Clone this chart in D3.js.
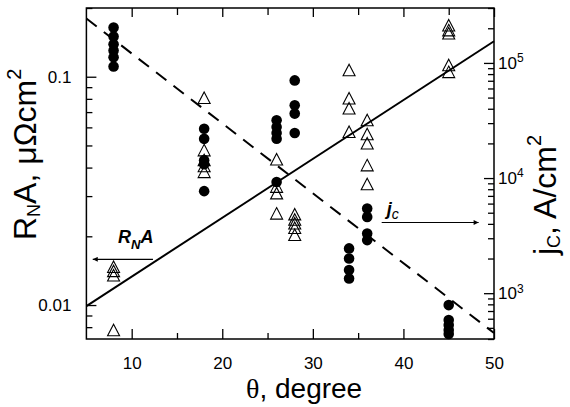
<!DOCTYPE html>
<html>
<head>
<meta charset="utf-8">
<script src="https://cdn.jsdelivr.net/npm/d3@7"></script>
<style>
  body { margin: 0; background: #fff; }
  svg text { font-family: "Liberation Sans", Arial, sans-serif; }
  .axis path { display: none; }
  .axis line { stroke: #000; stroke-width: 1.3; }
  .axis text { font-size: 17px; fill: #000; font-family: "Liberation Sans", Arial, sans-serif; }
</style>
</head>
<body>
<svg id="chart" width="570" height="407"></svg>
<script>
// angles measured (degree)
var angles = [8, 18, 26, 28, 34, 36, 45];

// R_N A, micro-ohm cm^2 (open triangles, left axis)
var rnaValues = [
  [0.0147, 0.0141, 0.0135, 0.00777],
  [0.0809, 0.0477, 0.0432, 0.0406, 0.0383],
  [0.0435, 0.0330, 0.0309, 0.0252],
  [0.0250, 0.0237, 0.0228, 0.0218, 0.0203],
  [0.107, 0.0804, 0.0727, 0.0574],
  [0.0646, 0.0561, 0.0511, 0.0410, 0.0339],
  [0.168, 0.160, 0.155, 0.1125, 0.105]
];

// j_c, A/cm^2 (filled circles, right axis)
var jcValues = [
  [2.03e5, 1.70e5, 1.45e5, 1.28e5, 1.12e5, 9.3e4],
  [2.68e4, 2.19e4, 1.43e4, 1.32e4, 7.7e3],
  [3.17e4, 2.77e4, 2.46e4, 2.20e4, 9.25e3],
  [7.05e4, 4.28e4, 3.63e4, 2.46e4],
  [2.45e3, 2.00e3, 1.59e3, 1.34e3],
  [5.44e3, 4.60e3, 3.30e3, 2.89e3],
  [788, 584, 529, 478, 442]
];

// fit lines (theta, value)
var rnaFit = [[5, 0.0099], [50, 0.143]];
var jcFit = [[5, 2.43e5], [50, 451]];

// ticks
var xMajor = [10, 20, 30, 40, 50];
var xMinor = [15, 25, 35, 45];
var leftMajor = [0.01, 0.1];
var leftMinor = [0.008, 0.009, 0.02, 0.03, 0.04, 0.05, 0.06, 0.07, 0.08, 0.09, 0.2];
var rightMajor = [1e3, 1e4, 1e5];
var rightMinor = [400, 500, 600, 700, 800, 900, 2e3, 3e3, 4e3, 5e3, 6e3, 7e3, 8e3, 9e3,
  2e4, 3e4, 4e4, 5e4, 6e4, 7e4, 8e4, 9e4, 2e5, 3e5];

// annotation arrows: [theta from, theta to, value]
var rnaArrow = [12.35, 5.7, 0.01585];
var jcArrow = [37.6, 48.3, 4110];
var rnaLabelPos = [8.5, 0.0187];
var jcLabelPos = [38.15, 4750];

var svg = d3.select("#chart");
var padL = 86.4, padR = 494, padT = 8, padB = 339;

var x = d3.scaleLinear().domain([5, 50]).range([padL, padR]);
var yL = d3.scaleLog().domain([0.0071, 0.2]).range([padB, padT]);
var yR = d3.scaleLog().domain([400, 3e5]).range([padB, padT]);

var defs = svg.append("defs");
defs.append("marker")
  .attr("id", "arrow")
  .attr("viewBox", "0 0 10 10")
  .attr("refX", 10).attr("refY", 5)
  .attr("markerWidth", 7).attr("markerHeight", 5)
  .attr("markerUnits", "userSpaceOnUse")
  .attr("orient", "auto")
  .append("path").attr("d", "M0,0L10,5L0,10Z").attr("fill", "#000");

function axisG(tr) {
  return svg.append("g").attr("class", "axis").attr("transform", tr);
}

// axes
axisG("translate(0," + padB + ")")
  .call(d3.axisBottom(x).tickValues(xMajor).tickSize(-10).tickPadding(18).tickFormat(d3.format("d")));
axisG("translate(0," + padB + ")")
  .call(d3.axisBottom(x).tickValues(xMinor).tickSize(-6).tickFormat(""));
axisG("translate(0," + padT + ")")
  .call(d3.axisTop(x).tickValues(xMajor).tickSize(-9).tickFormat(""));
axisG("translate(0," + padT + ")")
  .call(d3.axisTop(x).tickValues(xMinor).tickSize(-7).tickFormat(""));

axisG("translate(" + padL + ",0)")
  .call(d3.axisLeft(yL).tickValues(leftMajor).tickSize(-10).tickPadding(15)
    .tickFormat(function(d) { return d === 0.1 ? "0.1" : "0.01"; }));
axisG("translate(" + padL + ",0)")
  .call(d3.axisLeft(yL).tickValues(leftMinor).tickSize(-6).tickFormat(""));

var rAxis = axisG("translate(" + padR + ",0)")
  .call(d3.axisRight(yR).tickValues(rightMajor).tickSize(-10).tickPadding(4).tickFormat(function() { return ""; }));
rAxis.selectAll(".tick text").each(function(d) {
  var t = d3.select(this);
  t.text(null);
  t.append("tspan").text("10");
  t.append("tspan").attr("dy", "-0.55em").style("font-size", "12px").text(Math.round(Math.log10(d)));
});
axisG("translate(" + padR + ",0)")
  .call(d3.axisRight(yR).tickValues(rightMinor).tickSize(-6).tickFormat(""));

// frame
svg.append("rect")
  .attr("x", padL).attr("y", padT)
  .attr("width", padR - padL).attr("height", padB - padT)
  .attr("fill", "none").attr("stroke", "#000").attr("stroke-width", 1.5);

var plot = svg.append("g");

// fit lines
plot.append("path")
  .datum(rnaFit)
  .attr("d", d3.line().x(function(d) { return x(d[0]); }).y(function(d) { return yL(d[1]); }))
  .attr("fill", "none").attr("stroke", "#000").attr("stroke-width", 2);
plot.append("path")
  .datum(jcFit)
  .attr("d", d3.line().x(function(d) { return x(d[0]); }).y(function(d) { return yR(d[1]); }))
  .attr("fill", "none").attr("stroke", "#000").attr("stroke-width", 2)
  .attr("stroke-dasharray", "13,9");

// points
var rnaPts = [], jcPts = [];
angles.forEach(function(a, i) {
  rnaValues[i].forEach(function(v) { rnaPts.push({t: a, v: v}); });
  jcValues[i].forEach(function(v) { jcPts.push({t: a, v: v}); });
});

plot.selectAll("circle.jc")
  .data(jcPts)
  .enter().append("circle")
  .attr("class", "jc")
  .attr("cx", function(d) { return x(d.t); })
  .attr("cy", function(d) { return yR(d.v); })
  .attr("r", 5.3)
  .attr("fill", "#000");

var tri = "M0,-6.5L6,5L-6,5Z";
plot.selectAll("path.rna")
  .data(rnaPts)
  .enter().append("path")
  .attr("class", "rna")
  .attr("d", tri)
  .attr("transform", function(d) { return "translate(" + x(d.t) + "," + (yL(d.v) + 0.7) + ")"; })
  .attr("fill", "none")
  .attr("stroke", "#000")
  .attr("stroke-width", 1.1);

// annotation arrows and labels
plot.append("line")
  .attr("x1", x(rnaArrow[0])).attr("x2", x(rnaArrow[1]))
  .attr("y1", yL(rnaArrow[2])).attr("y2", yL(rnaArrow[2]))
  .attr("stroke", "#000").attr("stroke-width", 1.2)
  .attr("marker-end", "url(#arrow)");
plot.append("line")
  .attr("x1", x(jcArrow[0])).attr("x2", x(jcArrow[1]))
  .attr("y1", yR(jcArrow[2])).attr("y2", yR(jcArrow[2]))
  .attr("stroke", "#000").attr("stroke-width", 1.2)
  .attr("marker-end", "url(#arrow)");

var rl = plot.append("text")
  .attr("x", x(rnaLabelPos[0])).attr("y", yL(rnaLabelPos[1]))
  .style("font-size", "18px").style("font-weight", "bold").style("font-style", "italic");
rl.append("tspan").text("R");
rl.append("tspan").attr("dy", 6).style("font-size", "13px").text("N");
rl.append("tspan").attr("dy", -6).text("A");

var jl = plot.append("text")
  .attr("x", x(jcLabelPos[0])).attr("y", yR(jcLabelPos[1]))
  .style("font-size", "18px").style("font-style", "italic").style("font-weight", "bold");
jl.append("tspan").text("j");
jl.append("tspan").attr("dy", 4).style("font-size", "14px").style("font-weight", "normal").text("c");

// axis titles
var lt = svg.append("text")
  .attr("transform", "translate(36,240) rotate(-90)")
  .style("font-size", "32px");
lt.append("tspan").text("R");
lt.append("tspan").attr("dy", 4).style("font-size", "18px").text("N");
lt.append("tspan").attr("dy", -4).text("A, \u03bc\u03a9cm");
lt.append("tspan").attr("dy", -15).style("font-size", "20px").text("2");

var rt = svg.append("text")
  .attr("transform", "translate(556,255) rotate(-90)")
  .style("font-size", "32px");
rt.append("tspan").text("j");
rt.append("tspan").attr("dy", 4).style("font-size", "18px").text("C");
rt.append("tspan").attr("dy", -4).text(", A/cm");
rt.append("tspan").attr("dy", -15).style("font-size", "20px").text("2");

var bt = svg.append("text")
  .attr("x", 246).attr("y", 398)
  .style("font-size", "28px");
bt.append("tspan").style("font-family", "'Liberation Serif', serif").text("\u03b8");
bt.append("tspan").text(", degree");
</script>
</body>
</html>
